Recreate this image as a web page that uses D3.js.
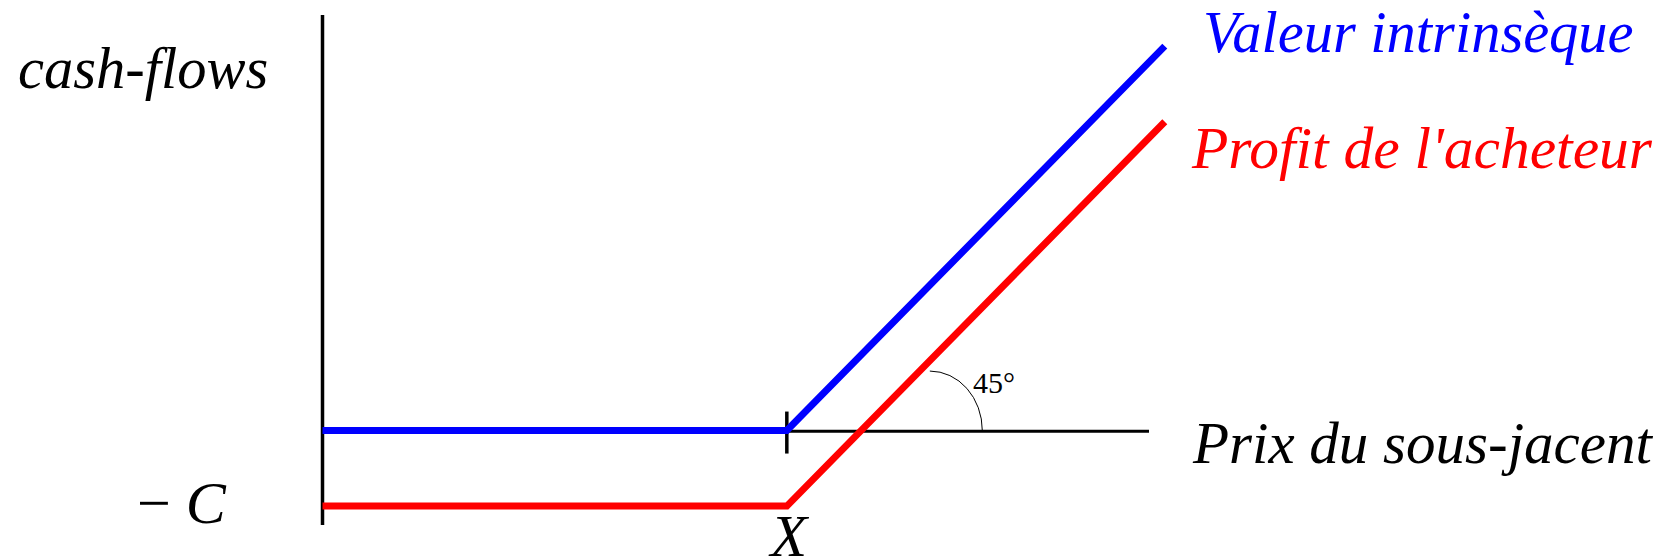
<!DOCTYPE html>
<html>
<head>
<meta charset="utf-8">
<script src="https://cdn.jsdelivr.net/npm/d3@7"></script>
<style>
  html, body { margin: 0; padding: 0; background: #fff; }
</style>
</head>
<body>
<div id="chart"></div>
<script>
// payoff of a call option at expiry
const price = [0, 50, 90.7];          // prix du sous-jacent
const intrinsic = [0, 0, 40.7];       // valeur intrinsèque
const profit = [-8, -8, 32.7];        // profit de l'acheteur
const strike = 50;                    // X
const premium = -8;                   // - C
const priceDomain = [0, 89];
const cashDomain = [-10, 44];
// 45° marker: from a point of the profit line down to the price axis
const arcFrom = { price: 65.4, value: 6.3 };
const arcTo = { price: 71.05, value: 0 };

const width = 1661, height = 558;
const serif = "Times New Roman";

const svg = d3.select("#chart")
  .append("svg")
  .attr("width", width)
  .attr("height", height);

const x = d3.scaleLinear().domain(priceDomain).range([322.5, 1149]);
const y = d3.scaleLinear().domain(cashDomain).range([525, 15]);

// axes
svg.append("line")
  .attr("x1", x(0)).attr("x2", x(0))
  .attr("y1", y(cashDomain[0])).attr("y2", y(cashDomain[1]))
  .attr("stroke", "#000").attr("stroke-width", 3.5);

svg.append("line")
  .attr("x1", x(0)).attr("x2", x(priceDomain[1]))
  .attr("y1", y(0) + 0.8).attr("y2", y(0) + 0.8)
  .attr("stroke", "#000").attr("stroke-width", 3);

// tick at the strike
svg.append("line")
  .attr("x1", x(strike)).attr("x2", x(strike))
  .attr("y1", y(0) - 19).attr("y2", y(0) + 23)
  .attr("stroke", "#000").attr("stroke-width", 3.5);

// 45° arc
const a0 = [x(arcFrom.price), y(arcFrom.value)];
const a1 = [x(arcTo.price), y(arcTo.value)];
svg.append("path")
  .attr("d", `M${a0[0]},${a0[1]} A${a1[0] - a0[0]},${a1[1] - a0[1]} 0 0 1 ${a1[0]},${a1[1]}`)
  .attr("fill", "none")
  .attr("stroke", "#000")
  .attr("stroke-width", 1);

const line = d3.line()
  .x(d => x(d[0]))
  .y(d => y(d[1]));

svg.append("path")
  .datum(d3.zip(price, profit))
  .attr("d", line)
  .attr("fill", "none")
  .attr("stroke", "#ff0000")
  .attr("stroke-width", 7);

svg.append("path")
  .datum(d3.zip(price, intrinsic))
  .attr("d", line)
  .attr("fill", "none")
  .attr("stroke", "#0000ff")
  .attr("stroke-width", 7);

// labels
function label(tx, ty, size, italic, fill, str) {
  return svg.append("text")
    .attr("x", tx).attr("y", ty)
    .attr("font-family", serif)
    .attr("font-size", size)
    .attr("font-style", italic ? "italic" : "normal")
    .attr("fill", fill)
    .text(str);
}

label(18, 88, 58.5, true, "#000", "cash-flows");
label(1193, 463, 59, true, "#000", "Prix du sous-jacent");
label(1203, 52, 58.5, true, "#0000ff", "Valeur intrinsèque");
label(1192, 168, 59.5, true, "#ff0000", "Profit de l'acheteur");

const cl = label(137, y(premium) + 17, 60, false, "#000", "");
cl.append("tspan").text("\u2212 ");
cl.append("tspan").attr("font-style", "italic").text("C");

label(x(strike) + 2, 556, 60, true, "#000", "X")
  .attr("text-anchor", "middle");

label(973, 393, 30, false, "#000", "45°");
</script>
</body>
</html>
